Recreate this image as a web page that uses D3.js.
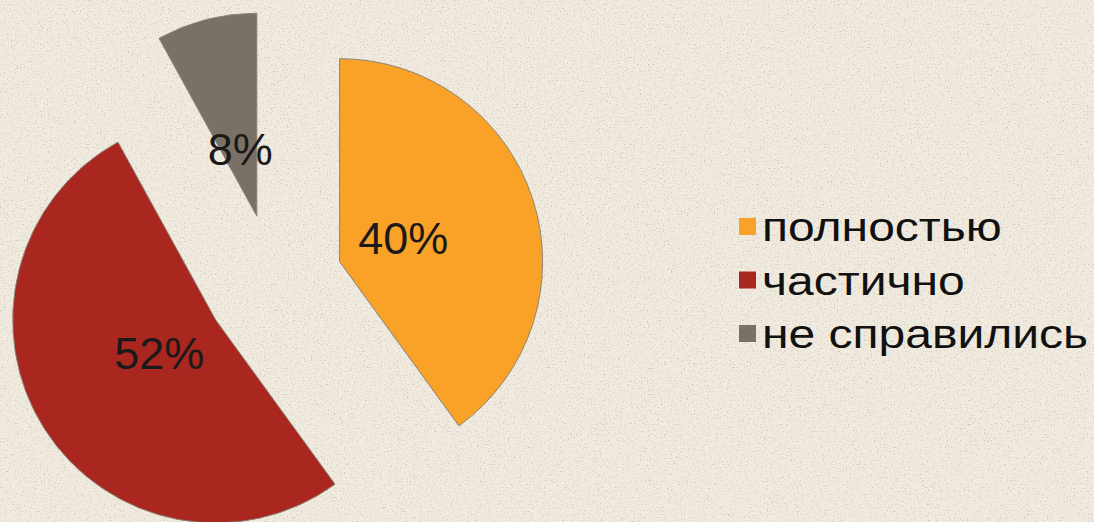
<!DOCTYPE html>
<html><head><meta charset="utf-8">
<script src="https://cdn.jsdelivr.net/npm/d3@7"></script>
<style>html,body{margin:0;padding:0;background:#f0eadf;}svg{display:block;}</style>
</head><body>
<svg id="chart" width="1094" height="522"></svg>
<script>
const categories = ["полностью", "частично", "не справились"];
const values = [40, 52, 8];
const labels = ["40%", "52%", "8%"];
const colors = ["#faa128", "#a9271e", "#7a7166"];

const W = 1094, H = 522;
const svg = d3.select("#chart");
const defs = svg.append("defs");
const f = defs.append("filter").attr("id","paper").attr("x",0).attr("y",0).attr("width","100%").attr("height","100%");
f.append("feTurbulence").attr("type","fractalNoise").attr("baseFrequency","0.7").attr("numOctaves",2).attr("seed",5).attr("result","n");
f.append("feColorMatrix").attr("in","n").attr("type","matrix")
 .attr("values","0 0 0 0 0.45  0 0 0 0 0.42  0 0 0 0 0.36  -2.6 0 0 0 1.12").attr("result","spk");
f.append("feComposite").attr("in","spk").attr("in2","SourceGraphic").attr("operator","over");

svg.append("rect").attr("width",W).attr("height",H).attr("fill","#f0eadf").attr("filter","url(#paper)");

const cx = 274, cy = 283, R = 203, explode = 69;
const pie = d3.pie().sort(null).value(d => d);
const arcs = pie(values);
const arc = d3.arc().innerRadius(0).outerRadius(R);
const labelArc = d3.arc().innerRadius(0).outerRadius(134);

const g = svg.append("g").attr("transform",`translate(${cx},${cy})`);
const slices = g.selectAll("g.slice").data(arcs).enter().append("g")
  .attr("transform", d => {
    const a = (d.startAngle + d.endAngle)/2;
    return `translate(${explode*Math.sin(a)},${-explode*Math.cos(a)})`;
  });
slices.append("path").attr("d", arc).attr("fill",(d,i)=>colors[i])
  .attr("stroke","#8c8478").attr("stroke-width",1);
slices.append("text")
  .attr("transform", d => `translate(${labelArc.centroid(d)})`)
  .attr("text-anchor","middle").attr("dy","0.3em")
  .attr("font-family","Liberation Sans, Arial, sans-serif").attr("font-size",45)
  .attr("fill","#1a1a1a")
  .text((d,i)=>labels[i]);

const leg = svg.append("g").attr("transform","translate(739,0)");
const rows = leg.selectAll("g").data(categories).enter().append("g")
  .attr("transform",(d,i)=>`translate(0,${241 + i*53.5})`);
rows.append("rect").attr("x",0).attr("y",-23).attr("width",17).attr("height",17)
  .attr("fill",(d,i)=>colors[i]);
rows.append("text").attr("x",0).attr("y",0)
  .attr("transform","translate(23,0) scale(1.2,1)")
  .attr("font-family","Liberation Sans, Arial, sans-serif").attr("font-size",40)
  .attr("fill","#111").text(d=>d);
</script>
</body></html>
